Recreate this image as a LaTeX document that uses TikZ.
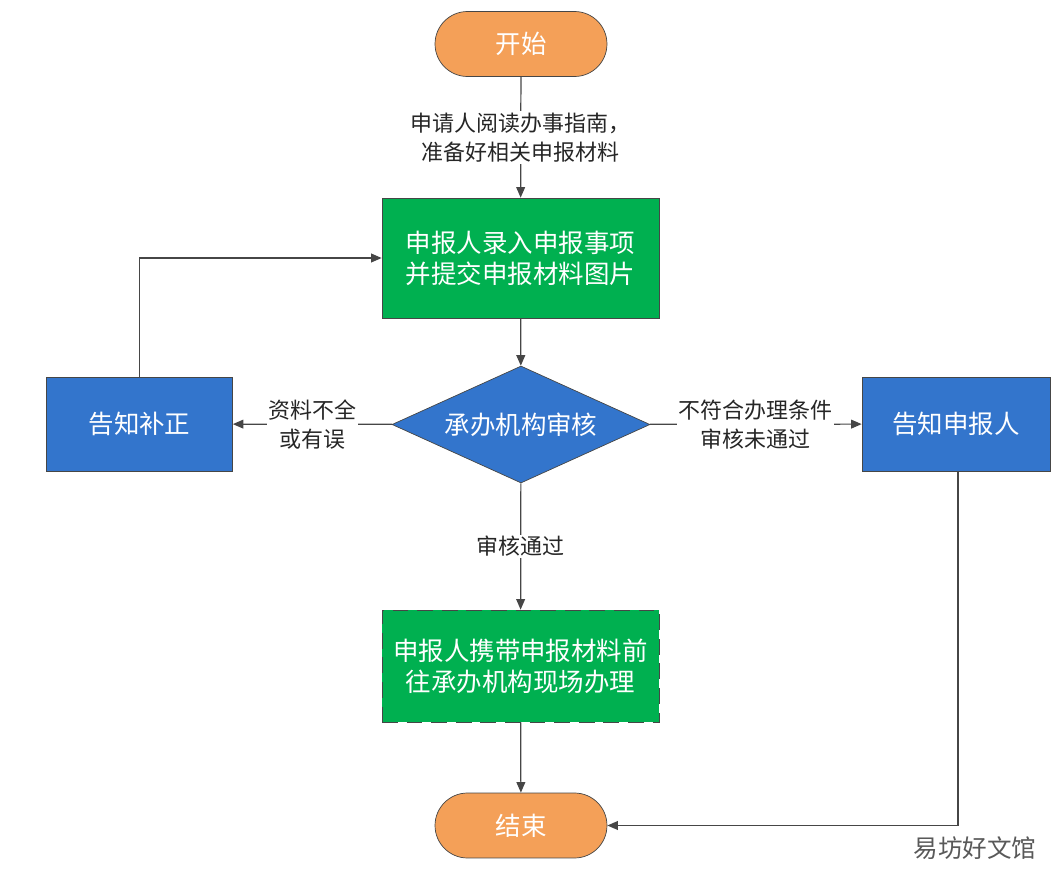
\documentclass[tikz,border=0pt]{standalone}
\usepackage{xcolor}
\usepackage{fontspec}
\setmainfont{Noto Sans CJK SC}
\usepackage{tikz}
\usetikzlibrary{shapes.geometric, arrows.meta, positioning}
\definecolor{termcolor}{RGB}{244, 160, 88}
\definecolor{stepcolor}{RGB}{0, 176, 80}
\definecolor{checkcolor}{RGB}{51, 117, 204}
\definecolor{linecolor}{RGB}{70, 70, 70}

\begin{document}
\begin{tikzpicture}[x=0.02cm, y=-0.02cm,
    terminal/.style={draw=linecolor, fill=termcolor, rounded corners=0.65cm, minimum width=3.44cm, minimum height=1.3cm, text=white, font=\fontsize{14.5}{17.6}\selectfont},
    stepbox/.style={draw=linecolor, fill=stepcolor, minimum width=5.54cm, text=white, align=center, font=\fontsize{14.5}{17.6}\selectfont},
    notebox/.style={draw=linecolor, fill=checkcolor, minimum width=3.72cm, minimum height=1.88cm, text=white, font=\fontsize{14.5}{17.6}\selectfont},
    flow/.style={-{Triangle[length=6pt, width=5pt]}, draw=linecolor, line width=0.7pt},
    lbl/.style={fill=white, inner sep=1pt, align=center, text=black!85, font=\fontsize{12.5}{16.5}\selectfont}]
    \useasboundingbox (0,0) rectangle (1063,879);

    % Start and end
    \node[terminal] (start) at (521, 44) {开始};
    \node[terminal] (stop) at (521, 825.5) {结束};

    % Steps
    \node[stepbox, minimum height=2.4cm] (enter) at (520.5, 258) {申报人录入申报事项\\并提交申报材料图片};
    \node[stepbox, minimum height=2.24cm, dashed, dash pattern=on 9pt off 5pt] (visit) at (520.5, 666) {申报人携带申报材料前\\往承办机构现场办理};

    % Review
    \node[draw=linecolor, fill=checkcolor, diamond, aspect=2.2, inner sep=1pt, minimum width=5.16cm, minimum height=2.34cm, text=white, font=\fontsize{14.5}{17.6}\selectfont] (review) at (521, 424.5) {承办机构审核};

    % Notices
    \node[notebox] (fix) at (139.5, 424) {告知补正};
    \node[notebox, minimum width=3.76cm] (inform) at (956, 424) {告知申报人};

    % Connectors
    \draw[flow] (start) -- node[lbl] {申请人阅读办事指南，\\准备好相关申报材料} (enter);
    \draw[flow] (enter) -- (review);
    \draw[flow] (review) -- node[lbl] {资料不全\\或有误} (fix);
    \draw[flow] (review) -- node[lbl] {不符合办理条件\\审核未通过} (inform);
    \draw[flow] (review) -- node[lbl] {审核通过} (visit);
    \draw[flow] (visit) -- (stop);
    \draw[flow] (fix.north) |- (enter.west);
    \draw[flow] ([xshift=0.04cm]inform.south) |- (stop.east);

    % Watermark
    \node[text=black!65, font=\fontsize{14}{16}\selectfont] (mark) at (975, 848) {易坊好文馆};
\end{tikzpicture}
\end{document}
